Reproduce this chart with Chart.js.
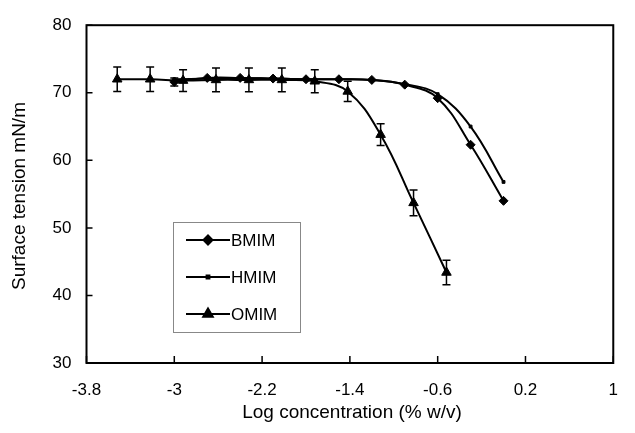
<!DOCTYPE html>
<html>
<head>
<meta charset="utf-8">
<script src="https://cdn.jsdelivr.net/npm/chart.js@4/dist/chart.umd.min.js"></script>
<style>
  body { margin: 0; background: #fff; }
  #wrap { width: 635px; height: 433px; }
</style>
</head>
<body>
<div id="wrap"><canvas id="myChart"></canvas></div>
<script>
// values
const xTicks = [-3.8, -3, -2.2, -1.4, -0.6, 0.2, 1];
const seriesNames = ["BMIM", "HMIM", "OMIM"];
const xTitle = "Log concentration (% w/v)";
const yTitle = "Surface tension mN/m";

const bmimX = [-3.0, -2.7, -2.4, -2.1, -1.8, -1.5, -1.2, -0.9, -0.6, -0.3, 0.0];
const bmimY = [71.6, 72.2, 72.2, 72.1, 72.0, 72.0, 71.9, 71.2, 69.2, 62.3, 54.0];
const bmimErr = [0.6, 0, 0, 0, 0, 0, 0, 0, 0, 0, 0];

const hmimX = [-3.0, -2.7, -2.4, -2.1, -1.8, -1.5, -1.2, -0.9, -0.6, -0.3, 0.0];
const hmimY = [72.0, 72.1, 72.2, 72.1, 72.0, 72.0, 71.9, 71.3, 69.8, 65.0, 56.8];

const omimX = [-3.52, -3.22, -2.92, -2.62, -2.32, -2.02, -1.72, -1.42, -1.12, -0.82, -0.52];
const omimY = [72.0, 72.0, 71.8, 71.9, 71.9, 71.9, 71.7, 70.2, 63.8, 53.7, 43.4];
const omimErr = [1.8, 1.8, 1.6, 1.75, 1.75, 1.75, 1.7, 1.5, 1.6, 1.9, 1.8];

function pts(xs, ys) {
  return xs.map((x, i) => ({ x: x, y: ys[i] }));
}

const FONT = "'Liberation Sans', Arial, sans-serif";

// error bars, inward tick marks, plot frame, axis titles and the boxed legend
const extras = {
  id: "extras",
  afterDatasetsDraw(chart) {
    const ctx = chart.ctx;
    const xs = chart.scales.x, ys = chart.scales.y;
    ctx.save();
    ctx.strokeStyle = "#000";
    ctx.lineWidth = 1.5;
    chart.data.datasets.forEach((ds) => {
      if (!ds.err) return;
      ds.data.forEach((p, i) => {
        const e = ds.err[i];
        if (!e) return;
        const px = xs.getPixelForValue(p.x);
        const y1 = ys.getPixelForValue(p.y + e);
        const y2 = ys.getPixelForValue(p.y - e);
        ctx.beginPath();
        ctx.moveTo(px, y1); ctx.lineTo(px, y2);
        ctx.moveTo(px - 4, y1); ctx.lineTo(px + 4, y1);
        ctx.moveTo(px - 4, y2); ctx.lineTo(px + 4, y2);
        ctx.stroke();
      });
    });
    ctx.restore();
  },
  afterDraw(chart) {
    const ctx = chart.ctx;
    const a = chart.chartArea;
    const xs = chart.scales.x, ys = chart.scales.y;
    ctx.save();
    ctx.strokeStyle = "#000";
    ctx.lineWidth = 2;
    ctx.strokeRect(a.left, a.top, a.right - a.left, a.bottom - a.top);
    ctx.lineWidth = 1.5;
    ctx.beginPath();
    xs.ticks.forEach((t, i) => {
      const px = xs.getPixelForTick(i);
      ctx.moveTo(px, a.bottom); ctx.lineTo(px, a.bottom - 7);
    });
    ys.ticks.forEach((t, i) => {
      const py = ys.getPixelForTick(i);
      ctx.moveTo(a.left, py); ctx.lineTo(a.left + 6, py);
    });
    ctx.stroke();

    // axis titles
    ctx.fillStyle = "#000";
    ctx.font = "19px " + FONT;
    ctx.textAlign = "center";
    ctx.textBaseline = "middle";
    ctx.fillText(xTitle, 352, 413);
    ctx.save();
    ctx.translate(20, 196);
    ctx.rotate(-Math.PI / 2);
    ctx.fillText(yTitle, 0, 0);
    ctx.restore();

    // legend box
    const lx = 173, ly = 222, lw = 127, lh = 110;
    ctx.lineWidth = 1;
    ctx.strokeStyle = "#888";
    ctx.fillStyle = "#fff";
    ctx.fillRect(lx, ly, lw, lh);
    ctx.strokeRect(lx + 0.5, ly + 0.5, lw, lh);
    ctx.font = "17px " + FONT;
    ctx.textAlign = "left";
    ctx.textBaseline = "middle";
    chart.data.datasets.forEach((ds, i) => {
      const ry = ly + 18 + i * 37;
      ctx.strokeStyle = "#000";
      ctx.lineWidth = 2;
      ctx.beginPath();
      ctx.moveTo(lx + 13, ry); ctx.lineTo(lx + 57, ry);
      ctx.stroke();
      ctx.fillStyle = "#000";
      Chart.helpers.drawPoint(ctx, {
        pointStyle: ds.pointStyle, radius: ds.pointRadius, borderWidth: 1, rotation: 0
      }, lx + 35, ry);
      ctx.fillStyle = "#000";
      ctx.fillText(ds.label, lx + 58, ry + 1);
    });
    ctx.restore();
  }
};

const ctx = document.getElementById("myChart");
new Chart(ctx, {
  type: "scatter",
  data: {
    datasets: [
      {
        label: seriesNames[0],
        data: pts(bmimX, bmimY),
        err: bmimErr,
        pointStyle: "rectRot",
        pointRadius: 4.5,
      },
      {
        label: seriesNames[1],
        data: pts(hmimX, hmimY),
        pointStyle: "rect",
        pointRadius: 2,
      },
      {
        label: seriesNames[2],
        data: pts(omimX, omimY),
        err: omimErr,
        pointStyle: "triangle",
        pointRadius: 5.5,
      },
    ].map((d) => Object.assign(d, {
      showLine: true,
      tension: 0.4,
      borderColor: "#000",
      backgroundColor: "#000",
      borderWidth: 2,
      pointBorderWidth: 1,
      pointBorderColor: "#000",
      pointBackgroundColor: "#000",
    })),
  },
  options: {
    responsive: true,
    maintainAspectRatio: false,
    animation: false,
    layout: { padding: { top: 16, right: 6, left: 0, bottom: 0 } },
    plugins: {
      legend: { display: false },
      tooltip: { enabled: false },
    },
    scales: {
      x: {
        type: "linear",
        min: -3.8,
        max: 1,
        afterBuildTicks: (scale) => {
          scale.ticks = xTicks.map((v) => ({ value: v }));
        },
        afterFit: (scale) => { scale.height = 70; },
        grid: { display: false, drawTicks: false },
        border: { display: false },
        ticks: {
          color: "#000",
          padding: 17,
          maxRotation: 0,
          font: { family: FONT, size: 17 },
          callback: (v) => String(Math.round(v * 10) / 10),
        },
      },
      y: {
        min: 30,
        max: 80,
        afterFit: (scale) => { scale.width = 86.5; },
        grid: { display: false, drawTicks: false },
        border: { display: false },
        ticks: {
          color: "#000",
          stepSize: 10,
          padding: 15,
          font: { family: FONT, size: 17 },
        },
      },
    },
  },
  plugins: [extras],
});
</script>
</body>
</html>
